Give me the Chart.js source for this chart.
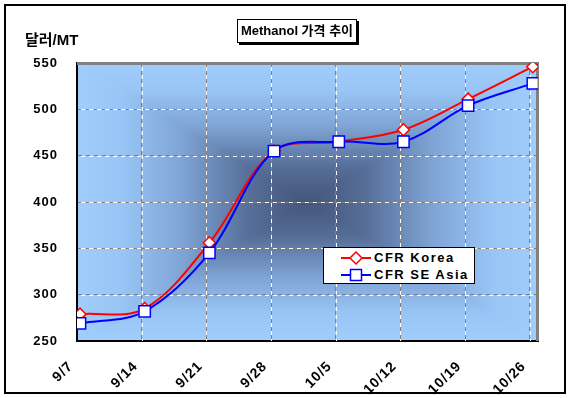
<!DOCTYPE html>
<html>
<head>
<meta charset="utf-8">
<script src="https://cdn.jsdelivr.net/npm/chart.js@4/dist/chart.umd.min.js"></script>
<style>
body{margin:0;background:#fff;}
#wrap{position:relative;width:570px;height:398px;overflow:hidden;}
#frame{position:absolute;left:4px;top:4px;width:558px;height:386px;border:2px solid #000;}
#title{position:absolute;left:237px;top:19px;width:118px;height:22px;border:1px solid #000;background:#fff;
  box-shadow:2px 2px 0 #000;font:bold 13px "Liberation Sans","Noto Sans CJK KR",sans-serif;line-height:22px;text-align:center;white-space:nowrap;}
#ylab{position:absolute;left:25px;top:28px;font:bold 15px "Liberation Sans","Noto Sans CJK KR",sans-serif;white-space:nowrap;}
#legend{position:absolute;left:323px;top:247px;width:150px;height:35px;border:1px solid #000;background:#fff;}
.row{position:absolute;left:16px;height:18px;font:bold 13px "Liberation Sans",sans-serif;letter-spacing:1.5px;line-height:18px;white-space:nowrap;}
.row svg{vertical-align:top;margin-right:2px;}
canvas{position:absolute;left:0;top:0;}
</style>
</head>
<body>
<div id="wrap">
<div id="frame"></div>
<canvas id="c" width="570" height="398"></canvas>
<div id="title">Methanol 가격 추이</div>
<div id="ylab">달러/MT</div>
<div id="legend">
 <div class="row" style="top:1px"><svg width="32" height="18"><line x1="1" y1="9" x2="31" y2="9" stroke="#ff0000" stroke-width="2"/><polygon points="16,3 22,9 16,15 10,9" fill="#fff" stroke="#ff0000" stroke-width="1.5"/></svg>CFR Korea</div>
 <div class="row" style="top:18px"><svg width="32" height="18"><line x1="1" y1="9" x2="31" y2="9" stroke="#0000ff" stroke-width="2"/><rect x="10.5" y="3.5" width="11" height="11" fill="#fff" stroke="#0000ff" stroke-width="1.5"/></svg>CFR SE Asia</div>
</div>
</div>
<script>
var weeks = ['9/7', '9/14', '9/21', '9/28', '10/5', '10/12', '10/19', '10/26'];
var cfrKorea = [279, 285, 356, 455, 465, 478, 511, 546];
var cfrSEAsia = [269, 282, 345, 455, 465, 465, 504, 528];
var yTicks = [250, 300, 350, 400, 450, 500, 550];

var gridShift = 0.046;

var toPoints = function(vals){
  return vals.map(function(v, i){ return {x: i, y: v}; });
};

/* rectangular "from center" fill like the old Excel plot area */
var plotBack = {
  id: 'plotBack',
  beforeDraw: function(chart){
    var ctx = chart.ctx, a = chart.chartArea;
    var cx = (a.left + a.right) / 2, cy = (a.top + a.bottom) / 2;
    var sides = [
      [[a.left, a.top], [a.right, a.top], [cx, a.top]],
      [[a.right, a.top], [a.right, a.bottom], [a.right, cy]],
      [[a.right, a.bottom], [a.left, a.bottom], [cx, a.bottom]],
      [[a.left, a.bottom], [a.left, a.top], [a.left, cy]]
    ];
    ctx.save();
    sides.forEach(function(s){
      var g = ctx.createLinearGradient(cx, cy, s[2][0], s[2][1]);
      g.addColorStop(0, '#44557a');
      g.addColorStop(0.25, '#566e98');
      g.addColorStop(0.55, '#7fa5d6');
      g.addColorStop(0.8, '#98c5f5');
      g.addColorStop(1, '#a0cdfb');
      ctx.beginPath();
      ctx.moveTo(cx, cy);
      ctx.lineTo(s[0][0], s[0][1]);
      ctx.lineTo(s[1][0], s[1][1]);
      ctx.closePath();
      ctx.fillStyle = g;
      ctx.strokeStyle = g;
      ctx.lineWidth = 1;
      ctx.fill();
      ctx.stroke();
    });
    ctx.restore();
    ctx.letterSpacing = '1px';
  },
  beforeDatasetsDraw: function(chart){
    var ctx = chart.ctx, a = chart.chartArea;
    var xs = chart.scales.x, ys = chart.scales.y;
    ctx.save();
    ctx.strokeStyle = '#ffffff';
    ctx.lineWidth = 1;
    ctx.setLineDash([4, 4]);
    ctx.lineDashOffset = 4;
    yTicks.slice(1, -1).forEach(function(v){
      var y = Math.round(ys.getPixelForValue(v)) + 0.5;
      ctx.beginPath(); ctx.moveTo(a.left, y); ctx.lineTo(a.right, y); ctx.stroke();
    });
    weeks.forEach(function(w, i){
      if (i === 0) return;
      var x = Math.round(xs.getPixelForValue(i - gridShift)) + 0.5;
      ctx.beginPath(); ctx.moveTo(x, a.top); ctx.lineTo(x, a.bottom); ctx.stroke();
    });
    // grey frame on top and right
    ctx.setLineDash([]);
    ctx.strokeStyle = '#808080';
    ctx.lineWidth = 3;
    ctx.beginPath();
    ctx.moveTo(a.left, a.top + 0.5);
    ctx.lineTo(a.right - 0.5, a.top + 0.5);
    ctx.lineTo(a.right - 0.5, a.bottom);
    ctx.stroke();
    ctx.restore();
  }
};

var tickFont = {family: '"Liberation Sans", Arial, sans-serif', size: 13, weight: 'bold'};

new Chart(document.getElementById('c'), {
  type: 'line',
  data: {
    datasets: [
      {
        label: 'CFR Korea',
        data: toPoints(cfrKorea),
        borderColor: '#ff0000',
        borderWidth: 2,
        tension: 0.35,
        pointStyle: 'rectRot',
        pointRadius: 6,
        pointBackgroundColor: '#ffffff',
        pointBorderColor: '#ff0000',
        pointBorderWidth: 1.5,
        order: 2
      },
      {
        label: 'CFR SE Asia',
        data: toPoints(cfrSEAsia),
        borderColor: '#0000ff',
        borderWidth: 2,
        tension: 0.35,
        pointStyle: 'rect',
        pointRadius: 8,
        pointBackgroundColor: '#ffffff',
        pointBorderColor: '#0000ff',
        pointBorderWidth: 1.5,
        order: 1
      }
    ]
  },
  options: {
    responsive: false,
    animation: false,
    layout: {padding: {left: 0, top: 63, right: 32, bottom: 0}},
    plugins: {legend: {display: false}, tooltip: {enabled: false}},
    scales: {
      x: {
        type: 'linear',
        min: -gridShift,
        max: 7.08,
        afterBuildTicks: function(scale){
          scale.ticks = weeks.map(function(w, i){ return {value: i - gridShift}; });
        },
        afterFit: function(scale){ scale.height = 57; },
        grid: {color: '#808080', drawTicks: false},
        border: {color: '#000000', width: 2, dash: [4, 4]},
        ticks: {
          autoSkip: false,
          minRotation: 45,
          maxRotation: 45,
          padding: 17,
          labelOffset: -6,
          color: '#000000',
          font: {family: '"Liberation Sans", Arial, sans-serif', size: 14, weight: 'bold'},
          callback: function(v, i){ return weeks[i]; }
        }
      },
      y: {
        min: 250,
        max: 550,
        afterBuildTicks: function(scale){
          scale.ticks = yTicks.map(function(v){ return {value: v}; });
        },
        afterFit: function(scale){ scale.width = 77; },
        grid: {color: '#808080', drawTicks: false},
        border: {color: '#000000', width: 2, dash: [4, 4]},
        ticks: {padding: 19, color: '#000000', font: tickFont}
      }
    }
  },
  plugins: [plotBack]
});
</script>
</body>
</html>
